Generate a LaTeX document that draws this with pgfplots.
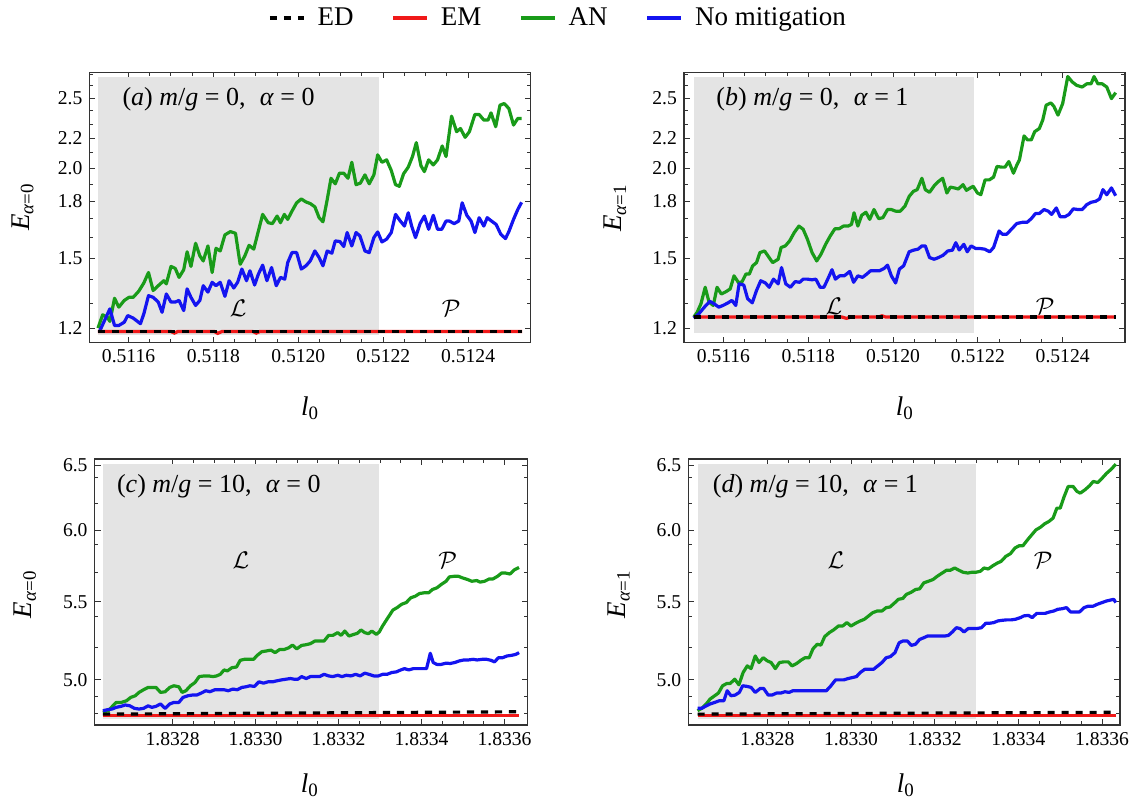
\documentclass[border=0pt]{standalone}
\usepackage{fontspec}
\setmainfont{Liberation Serif}
\usepackage{pgfplots}
\pgfplotsset{compat=1.18}

\definecolor{anGreen}{RGB}{25,155,25}
\definecolor{emRed}{RGB}{240,25,25}
\definecolor{nmBlue}{RGB}{20,20,240}
\definecolor{bandgray}{RGB}{228,228,228}

\pgfplotsset{
  panelax/.style={
    scale only axis,
    anchor=south west,
    axis line style={black!80, line width=0.6pt},
    every tick/.style={black!80, line width=0.5pt},
    major tick length=3pt,
    minor tick length=1.8pt,
    tick pos=both,
    tick align=inside,
    minor x tick num=3,
    ticklabel style={font=\fontsize{9.8}{10}\selectfont},
    /pgf/number format/assume math mode=true,
    label style={font=\fontsize{13.5}{15}\selectfont},
  },
  toprow/.style={
    ymin=1.1455, ymax=2.715,
    ytick={1.2,1.5,1.8,2.0,2.2,2.5},
    yticklabels={1.2,1.5,1.8,2.0,2.2,2.5},
    minor ytick={1.3,1.4,1.6,1.7,1.9,2.1,2.3,2.4,2.6,2.7},
    xtick={0.5116,0.5118,0.5120,0.5122,0.5124},
    xticklabels={0.5116,0.5118,0.5120,0.5122,0.5124},
  },
  botrow/.style={
    ymin=4.732, ymax=6.548,
    ytick={5.0,5.5,6.0,6.5},
    yticklabels={5.0,5.5,6.0,6.5},
    minor ytick={4.8,4.9,5.2,5.4,5.7,5.9,6.2,6.4},
    xtick={1.8328,1.8330,1.8332,1.8334,1.8336},
    xticklabels={1.8328,1.8330,1.8332,1.8334,1.8336},
  },
}
\tikzset{
  edline/.style={black, line width=1.6pt, dash pattern=on 3.6pt off 3.4pt},
  emline/.style={emRed, line width=1.6pt},
  anline/.style={anGreen, line width=1.6pt, line join=round},
  nmline/.style={nmBlue, line width=1.6pt, line join=round},
}
\newcommand{\ttl}{\fontsize{13}{15}\selectfont}

\begin{document}
\begin{tikzpicture}
\useasboundingbox (0,0) rectangle (565pt,401pt);

% (a)
\begin{axis}[ymode=log, panelax, toprow,
  at={(44.75pt,229.65pt)}, width=220.5pt, height=135.2pt,
  xmin=0.511508, xmax=0.512547,
  xlabel={\textit{l}\textsubscript{0}},
  ylabel={\textit{E}\textsubscript{\textit{α}=0}},
  xlabel style={at={(axis description cs:0.5,-0.2415)}, anchor=center},
  ylabel style={at={(axis description cs:-0.152,0.502)}, anchor=center},
  legend style={at={(1.0646,1.2008)}, anchor=center, draw=none, fill=none,
    legend columns=4, font=\fontsize{13.5}{15}\selectfont,
    /tikz/every odd column/.append style={column sep=4pt},
    /tikz/every even column/.append style={column sep=17pt}},
  legend cell align=left,
]
\addlegendimage{black, line width=1.6pt, dash pattern=on 3.6pt off 3.4pt}\addlegendentry{ED}
\addlegendimage{emRed, line width=1.6pt}\addlegendentry{EM}
\addlegendimage{anGreen, line width=1.6pt}\addlegendentry{AN}
\addlegendimage{nmBlue, line width=1.6pt}\addlegendentry{No mitigation}
\fill[bandgray] (axis cs:0.511528,1.1745) rectangle (axis cs:0.51219,2.671);
\addplot[anline, forget plot] coordinates {
(0.511528,1.200)(0.511539,1.252)(0.511550,1.243)(0.511556,1.226)(0.511567,1.320)(0.511577,1.283)(0.511590,1.311)(0.511601,1.324)(0.511611,1.324)(0.511624,1.350)(0.511636,1.386)(0.511647,1.433)(0.511658,1.353)(0.511670,1.374)(0.511683,1.396)(0.511689,1.382)(0.511700,1.461)(0.511710,1.452)(0.511719,1.411)(0.511730,1.446)(0.511738,1.531)(0.511747,1.461)(0.511758,1.573)(0.511768,1.511)(0.511776,1.487)(0.511787,1.560)(0.511797,1.433)(0.511806,1.548)(0.511816,1.535)(0.511827,1.616)(0.511840,1.633)(0.511852,1.624)(0.511863,1.471)(0.511874,1.511)(0.511884,1.563)(0.511895,1.544)(0.511905,1.628)(0.511916,1.725)(0.511929,1.680)(0.511939,1.675)(0.511950,1.716)(0.511958,1.680)(0.511967,1.725)(0.511975,1.698)(0.511985,1.743)(0.511996,1.790)(0.512007,1.812)(0.512018,1.795)(0.512028,1.786)(0.512039,1.767)(0.512049,1.707)(0.512058,1.685)(0.512068,1.808)(0.512077,1.936)(0.512087,1.902)(0.512097,1.968)(0.512107,1.968)(0.512117,1.936)(0.512126,2.037)(0.512136,1.897)(0.512146,1.906)(0.512157,1.957)(0.512167,1.902)(0.512178,1.957)(0.512187,2.086)(0.512197,2.037)(0.512208,2.053)(0.512219,1.985)(0.512229,1.897)(0.512238,1.887)(0.512248,1.964)(0.512259,2.006)(0.512269,2.075)(0.512278,2.169)(0.512289,2.014)(0.512297,1.978)(0.512307,2.053)(0.512318,2.020)(0.512328,2.053)(0.512339,2.146)(0.512348,2.075)(0.512361,2.360)(0.512373,2.246)(0.512382,2.269)(0.512393,2.206)(0.512403,2.246)(0.512416,2.373)(0.512426,2.373)(0.512437,2.331)(0.512447,2.331)(0.512454,2.385)(0.512465,2.282)(0.512475,2.444)(0.512485,2.457)(0.512496,2.419)(0.512507,2.294)(0.512517,2.343)(0.512526,2.343)
};
\addplot[nmline, forget plot] coordinates {
(0.511531,1.185)(0.511556,1.276)(0.511567,1.210)(0.511577,1.210)(0.511590,1.223)(0.511598,1.249)(0.511611,1.239)(0.511628,1.217)(0.511636,1.256)(0.511647,1.331)(0.511658,1.324)(0.511670,1.304)(0.511679,1.262)(0.511689,1.338)(0.511700,1.304)(0.511710,1.304)(0.511719,1.311)(0.511730,1.269)(0.511738,1.360)(0.511747,1.324)(0.511758,1.290)(0.511768,1.311)(0.511776,1.374)(0.511787,1.346)(0.511797,1.389)(0.511806,1.374)(0.511816,1.389)(0.511827,1.328)(0.511837,1.396)(0.511848,1.364)(0.511857,1.389)(0.511867,1.449)(0.511878,1.396)(0.511886,1.441)(0.511897,1.377)(0.511906,1.426)(0.511916,1.467)(0.511926,1.396)(0.511937,1.456)(0.511948,1.374)(0.511958,1.411)(0.511968,1.403)(0.511975,1.479)(0.511985,1.527)(0.511996,1.527)(0.512007,1.449)(0.512018,1.464)(0.512028,1.487)(0.512039,1.535)(0.512049,1.503)(0.512058,1.464)(0.512068,1.535)(0.512079,1.524)(0.512087,1.585)(0.512098,1.582)(0.512107,1.557)(0.512115,1.628)(0.512126,1.560)(0.512136,1.628)(0.512145,1.611)(0.512157,1.535)(0.512167,1.527)(0.512178,1.602)(0.512187,1.631)(0.512197,1.580)(0.512208,1.594)(0.512219,1.628)(0.512229,1.725)(0.512239,1.693)(0.512250,1.662)(0.512259,1.734)(0.512267,1.662)(0.512276,1.602)(0.512287,1.676)(0.512297,1.716)(0.512307,1.645)(0.512318,1.720)(0.512328,1.645)(0.512338,1.645)(0.512348,1.689)(0.512356,1.689)(0.512367,1.675)(0.512378,1.689)(0.512386,1.790)(0.512397,1.720)(0.512407,1.689)(0.512416,1.628)(0.512426,1.707)(0.512437,1.662)(0.512445,1.707)(0.512455,1.689)(0.512466,1.671)(0.512477,1.619)(0.512488,1.597)(0.512496,1.633)(0.512507,1.698)(0.512517,1.752)(0.512526,1.793)
};
\addplot[emline, forget plot] coordinates {
(0.511528,1.187)(0.511700,1.187)(0.511708,1.181)(0.511716,1.187)(0.511802,1.187)(0.511810,1.180)(0.511820,1.187)(0.511893,1.187)(0.511901,1.181)(0.511909,1.187)(0.512527,1.187)
};
\addplot[edline, forget plot] coordinates {(0.511528,1.187)(0.512527,1.187)};
\node[anchor=west, font=\ttl] at (axis description cs:0.059,0.902) {(\textit{a}) \textit{m}/\textit{g} = 0,\hspace{0.3em} \textit{α} = 0};
\node[font=\ttl] at (axis description cs:0.337,0.128) {$\mathcal{L}$};
\node[font=\ttl] at (axis description cs:0.820,0.128) {$\mathcal{P}$};
\end{axis}

% (b)
\begin{axis}[ymode=log, panelax, toprow,
  at={(342pt,229.65pt)}, width=220.5pt, height=135.2pt,
  xmin=0.511507, xmax=0.512547,
  xlabel={\textit{l}\textsubscript{0}},
  ylabel={\textit{E}\textsubscript{\textit{α}=1}},
  xlabel style={at={(axis description cs:0.501,-0.2415)}, anchor=center},
  ylabel style={at={(axis description cs:-0.156,0.498)}, anchor=center},
]
\fill[bandgray] (axis cs:0.51153,1.182) rectangle (axis cs:0.51219,2.671);
\addplot[anline] coordinates {
(0.511530,1.243)(0.511538,1.262)(0.511547,1.297)(0.511557,1.367)(0.511566,1.304)(0.511576,1.290)(0.511585,1.367)(0.511595,1.338)(0.511606,1.348)(0.511616,1.360)(0.511625,1.418)(0.511636,1.386)(0.511644,1.392)(0.511653,1.426)(0.511661,1.426)(0.511669,1.464)(0.511678,1.479)(0.511686,1.527)(0.511697,1.535)(0.511705,1.511)(0.511716,1.479)(0.511729,1.495)(0.511736,1.552)(0.511746,1.560)(0.511756,1.585)(0.511767,1.628)(0.511778,1.662)(0.511788,1.645)(0.511798,1.594)(0.511809,1.527)(0.511820,1.487)(0.511830,1.519)(0.511841,1.568)(0.511852,1.611)(0.511863,1.648)(0.511873,1.648)(0.511883,1.662)(0.511894,1.662)(0.511902,1.671)(0.511908,1.734)(0.511917,1.662)(0.511926,1.720)(0.511936,1.737)(0.511945,1.698)(0.511955,1.752)(0.511966,1.702)(0.511976,1.707)(0.511987,1.752)(0.511996,1.752)(0.512006,1.743)(0.512017,1.743)(0.512028,1.771)(0.512038,1.827)(0.512048,1.857)(0.512057,1.867)(0.512068,1.936)(0.512076,1.867)(0.512086,1.851)(0.512097,1.890)(0.512107,1.916)(0.512117,1.936)(0.512127,1.847)(0.512135,1.882)(0.512145,1.877)(0.512154,1.871)(0.512165,1.897)(0.512173,1.863)(0.512182,1.877)(0.512189,1.887)(0.512199,1.847)(0.512207,1.837)(0.512217,1.926)(0.512227,1.926)(0.512237,1.943)(0.512245,2.010)(0.512256,2.006)(0.512264,2.006)(0.512273,2.042)(0.512284,1.968)(0.512292,2.020)(0.512298,2.053)(0.512309,2.216)(0.512317,2.188)(0.512326,2.188)(0.512334,2.246)(0.512345,2.269)(0.512353,2.331)(0.512361,2.444)(0.512372,2.462)(0.512379,2.437)(0.512389,2.368)(0.512400,2.457)(0.512412,2.678)(0.512423,2.631)(0.512433,2.604)(0.512446,2.590)(0.512457,2.617)(0.512467,2.617)(0.512474,2.678)(0.512483,2.617)(0.512493,2.617)(0.512504,2.590)(0.512515,2.496)(0.512525,2.544)
};
\addplot[nmline] coordinates {
(0.511530,1.239)(0.511542,1.256)(0.511555,1.283)(0.511568,1.307)(0.511578,1.297)(0.511589,1.283)(0.511599,1.290)(0.511610,1.300)(0.511620,1.311)(0.511629,1.290)(0.511637,1.382)(0.511648,1.377)(0.511657,1.318)(0.511668,1.301)(0.511678,1.353)(0.511688,1.396)(0.511699,1.386)(0.511708,1.367)(0.511718,1.403)(0.511729,1.382)(0.511737,1.456)(0.511747,1.382)(0.511758,1.367)(0.511769,1.392)(0.511780,1.389)(0.511788,1.403)(0.511798,1.403)(0.511809,1.400)(0.511818,1.403)(0.511828,1.367)(0.511837,1.367)(0.511846,1.403)(0.511856,1.446)(0.511864,1.403)(0.511874,1.418)(0.511885,1.418)(0.511898,1.438)(0.511907,1.389)(0.511917,1.418)(0.511928,1.411)(0.511938,1.426)(0.511947,1.441)(0.511957,1.441)(0.511968,1.441)(0.511979,1.452)(0.511987,1.467)(0.511996,1.418)(0.512006,1.386)(0.512015,1.449)(0.512025,1.464)(0.512038,1.531)(0.512048,1.539)(0.512059,1.544)(0.512068,1.560)(0.512076,1.560)(0.512086,1.503)(0.512097,1.495)(0.512107,1.503)(0.512118,1.514)(0.512129,1.535)(0.512140,1.539)(0.512148,1.576)(0.512156,1.540)(0.512167,1.568)(0.512175,1.531)(0.512184,1.560)(0.512195,1.547)(0.512205,1.547)(0.512216,1.544)(0.512228,1.531)(0.512237,1.552)(0.512250,1.636)(0.512258,1.619)(0.512268,1.619)(0.512279,1.645)(0.512292,1.676)(0.512305,1.682)(0.512316,1.682)(0.512326,1.702)(0.512336,1.730)(0.512345,1.730)(0.512356,1.752)(0.512366,1.743)(0.512374,1.725)(0.512385,1.761)(0.512394,1.712)(0.512405,1.712)(0.512415,1.725)(0.512425,1.756)(0.512436,1.752)(0.512446,1.752)(0.512457,1.780)(0.512467,1.793)(0.512478,1.799)(0.512487,1.812)(0.512495,1.867)(0.512504,1.837)(0.512515,1.877)(0.512525,1.831)
};
\addplot[emline] coordinates {
(0.511530,1.243)(0.511880,1.243)(0.511890,1.238)(0.511900,1.243)(0.511965,1.243)(0.511974,1.248)(0.511983,1.243)(0.512525,1.243)
};
\addplot[edline] coordinates {(0.511530,1.243)(0.512525,1.243)};
\node[anchor=west, font=\ttl] at (axis description cs:0.0576,0.902) {(\textit{b}) \textit{m}/\textit{g} = 0,\hspace{0.3em} \textit{α} = 1};
\node[font=\ttl] at (axis description cs:0.340,0.134) {$\mathcal{L}$};
\node[font=\ttl] at (axis description cs:0.819,0.134) {$\mathcal{P}$};
\end{axis}

% (c)
\begin{axis}[ymode=log, panelax, botrow,
  at={(47.3pt,38.5pt)}, width=216.6pt, height=133pt,
  xmin=1.832612, xmax=1.833656,
  xlabel={\textit{l}\textsubscript{0}},
  ylabel={\textit{E}\textsubscript{\textit{α}=0}},
  xlabel style={at={(axis description cs:0.497,-0.226)}, anchor=center},
  ylabel style={at={(axis description cs:-0.161,0.492)}, anchor=center},
]
\fill[bandgray] (axis cs:1.832632,4.767) rectangle (axis cs:1.833298,6.51);
\addplot[anline] coordinates {
(1.832632,4.805)(1.832645,4.815)(1.832656,4.844)(1.832664,4.864)(1.832676,4.864)(1.832689,4.874)(1.832699,4.894)(1.832710,4.904)(1.832719,4.924)(1.832730,4.940)(1.832741,4.954)(1.832750,4.954)(1.832760,4.954)(1.832771,4.924)(1.832782,4.928)(1.832793,4.954)(1.832803,4.964)(1.832815,4.958)(1.832823,4.924)(1.832832,4.934)(1.832843,4.964)(1.832854,4.984)(1.832864,5.020)(1.832876,5.024)(1.832887,5.024)(1.832897,5.020)(1.832906,5.024)(1.832915,5.034)(1.832924,5.061)(1.832932,5.055)(1.832943,5.075)(1.832954,5.079)(1.832963,5.121)(1.832973,5.127)(1.832984,5.127)(1.832995,5.127)(1.833004,5.152)(1.833015,5.175)(1.833025,5.179)(1.833037,5.185)(1.833047,5.169)(1.833058,5.189)(1.833069,5.189)(1.833080,5.200)(1.833089,5.217)(1.833099,5.193)(1.833111,5.215)(1.833121,5.219)(1.833132,5.226)(1.833143,5.243)(1.833154,5.243)(1.833165,5.243)(1.833176,5.279)(1.833186,5.279)(1.833198,5.297)(1.833206,5.279)(1.833215,5.307)(1.833225,5.275)(1.833237,5.286)(1.833245,5.292)(1.833254,5.314)(1.833263,5.297)(1.833272,5.290)(1.833280,5.307)(1.833291,5.286)(1.833298,5.301)(1.833306,5.340)(1.833319,5.395)(1.833331,5.445)(1.833341,5.461)(1.833352,5.484)(1.833363,5.495)(1.833374,5.527)(1.833385,5.538)(1.833395,5.556)(1.833406,5.561)(1.833417,5.561)(1.833426,5.583)(1.833437,5.595)(1.833447,5.617)(1.833459,5.640)(1.833467,5.670)(1.833478,5.674)(1.833489,5.674)(1.833499,5.663)(1.833511,5.652)(1.833521,5.640)(1.833533,5.645)(1.833541,5.634)(1.833552,5.640)(1.833563,5.656)(1.833572,5.656)(1.833583,5.674)(1.833593,5.697)(1.833602,5.697)(1.833613,5.690)(1.833624,5.720)(1.833635,5.736)
};
\addplot[nmline] coordinates {
(1.832632,4.815)(1.832643,4.821)(1.832654,4.825)(1.832664,4.835)(1.832676,4.841)(1.832686,4.849)(1.832697,4.844)(1.832708,4.829)(1.832719,4.825)(1.832730,4.829)(1.832741,4.844)(1.832750,4.835)(1.832760,4.841)(1.832771,4.855)(1.832782,4.829)(1.832793,4.855)(1.832803,4.864)(1.832815,4.864)(1.832825,4.894)(1.832837,4.904)(1.832847,4.908)(1.832858,4.908)(1.832869,4.920)(1.832880,4.934)(1.832890,4.928)(1.832902,4.940)(1.832912,4.940)(1.832924,4.940)(1.832934,4.934)(1.832945,4.944)(1.832956,4.940)(1.832967,4.954)(1.832977,4.958)(1.832986,4.964)(1.832997,4.960)(1.833008,4.988)(1.833019,4.980)(1.833030,4.988)(1.833041,4.988)(1.833051,4.994)(1.833063,5.000)(1.833073,5.004)(1.833084,5.008)(1.833093,5.004)(1.833102,5.004)(1.833111,5.020)(1.833122,5.008)(1.833132,5.020)(1.833143,5.020)(1.833154,5.020)(1.833165,5.034)(1.833176,5.024)(1.833186,5.020)(1.833198,5.028)(1.833208,5.020)(1.833219,5.028)(1.833230,5.024)(1.833241,5.034)(1.833252,5.024)(1.833263,5.041)(1.833273,5.034)(1.833285,5.024)(1.833296,5.024)(1.833306,5.034)(1.833317,5.034)(1.833328,5.045)(1.833339,5.049)(1.833350,5.061)(1.833359,5.069)(1.833369,5.061)(1.833380,5.069)(1.833391,5.069)(1.833402,5.069)(1.833412,5.069)(1.833421,5.165)(1.833428,5.107)(1.833437,5.095)(1.833447,5.095)(1.833459,5.103)(1.833469,5.101)(1.833480,5.107)(1.833491,5.117)(1.833502,5.123)(1.833513,5.123)(1.833524,5.127)(1.833534,5.123)(1.833546,5.127)(1.833557,5.127)(1.833567,5.121)(1.833576,5.111)(1.833585,5.137)(1.833595,5.137)(1.833606,5.148)(1.833617,5.152)(1.833627,5.158)(1.833635,5.169)
};
\addplot[emline] coordinates {(1.832632,4.787)(1.833635,4.787)};
\addplot[edline] coordinates {(1.832632,4.795)(1.833635,4.809)};
\node[anchor=west, font=\ttl] at (axis description cs:0.0356,0.896) {(\textit{c}) \textit{m}/\textit{g} = 10,\hspace{0.3em} \textit{α} = 0};
\node[font=\ttl] at (axis description cs:0.338,0.620) {$\mathcal{L}$};
\node[font=\ttl] at (axis description cs:0.815,0.620) {$\mathcal{P}$};
\end{axis}

% (d)
\begin{axis}[ymode=log, panelax, botrow,
  at={(344.15pt,38.5pt)}, width=215.85pt, height=133pt,
  xmin=1.832611, xmax=1.833643,
  xlabel={\textit{l}\textsubscript{0}},
  ylabel={\textit{E}\textsubscript{\textit{α}=1}},
  xlabel style={at={(axis description cs:0.504,-0.226)}, anchor=center},
  ylabel style={at={(axis description cs:-0.161,0.492)}, anchor=center},
]
\fill[bandgray] (axis cs:1.832633,4.767) rectangle (axis cs:1.833298,6.51);
\addplot[anline] coordinates {
(1.832633,4.815)(1.832643,4.829)(1.832654,4.855)(1.832663,4.884)(1.832674,4.904)(1.832683,4.920)(1.832693,4.964)(1.832703,4.978)(1.832711,4.978)(1.832722,5.004)(1.832732,4.970)(1.832742,5.045)(1.832752,5.086)(1.832761,5.069)(1.832771,5.148)(1.832780,5.107)(1.832790,5.137)(1.832800,5.117)(1.832809,5.107)(1.832819,5.069)(1.832829,5.107)(1.832839,5.111)(1.832850,5.111)(1.832859,5.086)(1.832870,5.101)(1.832880,5.121)(1.832890,5.137)(1.832900,5.137)(1.832909,5.193)(1.832919,5.222)(1.832928,5.217)(1.832937,5.271)(1.832948,5.297)(1.832958,5.314)(1.832970,5.340)(1.832980,5.340)(1.832990,5.362)(1.833000,5.340)(1.833011,5.358)(1.833022,5.373)(1.833032,5.384)(1.833042,5.406)(1.833052,5.428)(1.833063,5.439)(1.833074,5.439)(1.833084,5.461)(1.833093,5.465)(1.833105,5.495)(1.833113,5.517)(1.833124,5.523)(1.833132,5.550)(1.833144,5.565)(1.833154,5.583)(1.833164,5.588)(1.833174,5.629)(1.833185,5.640)(1.833196,5.652)(1.833206,5.674)(1.833218,5.697)(1.833228,5.716)(1.833237,5.716)(1.833248,5.732)(1.833258,5.716)(1.833268,5.702)(1.833279,5.697)(1.833289,5.702)(1.833298,5.702)(1.833309,5.709)(1.833318,5.732)(1.833328,5.725)(1.833339,5.748)(1.833350,5.767)(1.833359,5.779)(1.833370,5.814)(1.833381,5.833)(1.833392,5.874)(1.833402,5.890)(1.833411,5.890)(1.833422,5.933)(1.833432,5.969)(1.833442,6.005)(1.833453,6.025)(1.833463,6.050)(1.833473,6.067)(1.833483,6.092)(1.833492,6.167)(1.833500,6.167)(1.833509,6.250)(1.833519,6.332)(1.833531,6.332)(1.833540,6.294)(1.833548,6.281)(1.833559,6.306)(1.833570,6.337)(1.833579,6.371)(1.833590,6.363)(1.833600,6.396)(1.833611,6.435)(1.833622,6.467)(1.833633,6.507)
};
\addplot[nmline] coordinates {
(1.832633,4.829)(1.832643,4.829)(1.832654,4.844)(1.832663,4.855)(1.832674,4.864)(1.832685,4.874)(1.832696,4.874)(1.832704,4.934)(1.832713,4.904)(1.832723,4.908)(1.832733,4.924)(1.832741,4.964)(1.832752,4.960)(1.832761,4.954)(1.832771,4.924)(1.832783,4.948)(1.832791,4.948)(1.832802,4.908)(1.832811,4.908)(1.832822,4.920)(1.832832,4.920)(1.832842,4.928)(1.832852,4.924)(1.832861,4.934)(1.832871,4.934)(1.832883,4.934)(1.832891,4.934)(1.832902,4.934)(1.832913,4.934)(1.832922,4.934)(1.832932,4.934)(1.832941,4.934)(1.832952,4.964)(1.832963,5.000)(1.832972,5.000)(1.832983,5.000)(1.832993,5.008)(1.833003,5.014)(1.833013,5.020)(1.833022,5.045)(1.833033,5.065)(1.833044,5.065)(1.833054,5.065)(1.833064,5.086)(1.833074,5.107)(1.833084,5.137)(1.833094,5.144)(1.833105,5.169)(1.833115,5.232)(1.833124,5.243)(1.833135,5.243)(1.833144,5.215)(1.833154,5.222)(1.833164,5.253)(1.833174,5.264)(1.833183,5.275)(1.833193,5.275)(1.833203,5.275)(1.833213,5.275)(1.833224,5.275)(1.833233,5.279)(1.833242,5.301)(1.833252,5.329)(1.833261,5.323)(1.833270,5.301)(1.833280,5.323)(1.833292,5.323)(1.833300,5.323)(1.833312,5.329)(1.833322,5.358)(1.833331,5.358)(1.833341,5.362)(1.833351,5.373)(1.833361,5.377)(1.833372,5.380)(1.833383,5.380)(1.833393,5.384)(1.833405,5.395)(1.833413,5.406)(1.833424,5.410)(1.833433,5.395)(1.833444,5.423)(1.833454,5.423)(1.833464,5.423)(1.833474,5.432)(1.833485,5.439)(1.833494,5.450)(1.833505,5.454)(1.833515,5.461)(1.833525,5.432)(1.833535,5.432)(1.833546,5.432)(1.833557,5.461)(1.833567,5.471)(1.833579,5.471)(1.833589,5.484)(1.833600,5.495)(1.833611,5.506)(1.833622,5.513)(1.833628,5.517)(1.833633,5.495)
};
\addplot[emline] coordinates {(1.832633,4.787)(1.833633,4.787)};
\addplot[edline] coordinates {(1.832633,4.795)(1.833633,4.806)};
\node[anchor=west, font=\ttl] at (axis description cs:0.0405,0.896) {(\textit{d}) \textit{m}/\textit{g} = 10,\hspace{0.3em} \textit{α} = 1};
\node[font=\ttl] at (axis description cs:0.342,0.620) {$\mathcal{L}$};
\node[font=\ttl] at (axis description cs:0.822,0.620) {$\mathcal{P}$};
\end{axis}
\end{tikzpicture}
\end{document}
